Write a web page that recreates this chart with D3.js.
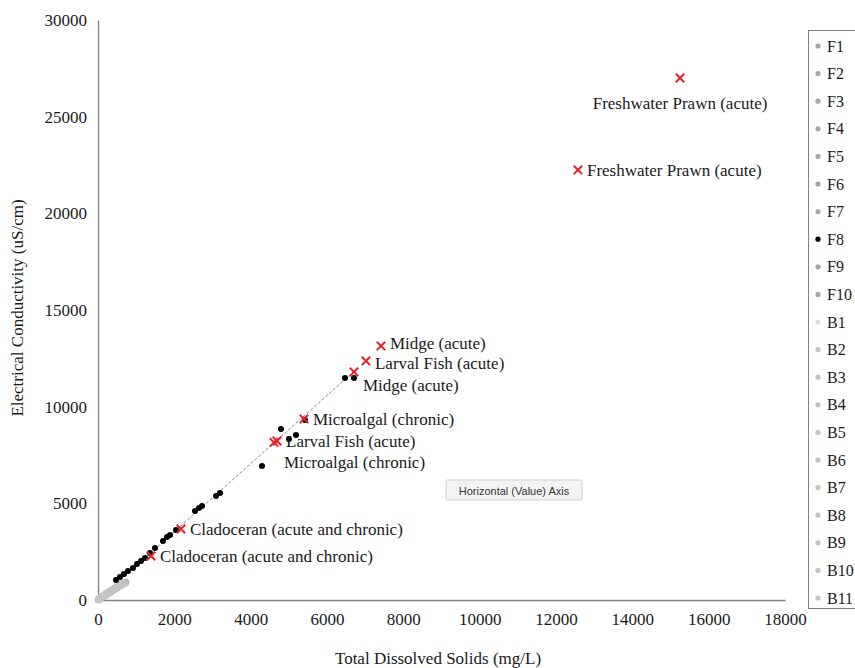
<!DOCTYPE html>
<html><head><meta charset="utf-8">
<script src="https://cdn.jsdelivr.net/npm/d3@7"></script>
<style>
body{margin:0;background:#fff;}
svg{display:block;font-family:"Liberation Serif","Times New Roman",serif;}
</style></head>
<body><svg id="c" width="855" height="668"></svg>
<script>
// ---- data ----
const xTicks = [0,2000,4000,6000,8000,10000,12000,14000,16000,18000];
const yTicks = [0,5000,10000,15000,20000,25000,30000];
const seriesNames = ["F1","F2","F3","F4","F5","F6","F7","F8","F9","F10","B1","B2","B3","B4","B5","B6","B7","B8","B9","B10","B11"];
const seriesColors = ["#a6a6a6","#a6a6a6","#a6a6a6","#a6a6a6","#a6a6a6","#a6a6a6","#a6a6a6","#000000","#a6a6a6","#a6a6a6","#dcdcdc","#c4c4c4","#c4c4c4","#c4c4c4","#c4c4c4","#c4c4c4","#c4c4c4","#c4c4c4","#c4c4c4","#c4c4c4","#c4c4c4"];
const F1 = [[60,90],[120,170],[180,240]];
const F2 = [[90,130],[210,290],[330,430]];
const F3 = [[150,200],[260,350],[420,560]];
const F4 = [[40,60],[300,400],[520,680]];
const F5 = [[100,150],[380,500],[600,780]];
const F6 = [[70,110],[240,320],[470,620]];
const F7 = [[130,180],[350,460],[680,850]];
const F8 = [[472,1035],[576,1190],[681,1345],[786,1500],[917,1655],[1022,1862],[1127,2018],[1231,2173],[1362,2431],[1493,2690],[1703,3052],[1808,3259],[1886,3363],[2043,3621],[2541,4604],[2646,4759],[2725,4863],[3091,5380],[3196,5535],[4297,6932],[4794,8846],[5004,8329],[5187,8536],[5423,9312],[6471,11485],[6707,11485]];
const F9 = [[200,270],[450,590],[720,900]];
const F10 = [[110,160],[310,410],[560,730]];
const B1 = [[30,50],[160,220],[524,880]];
const B2 = [[50,80],[190,260],[400,520]];
const B3 = [[80,120],[280,370],[640,820]];
const B4 = [[20,40],[230,300],[500,640]];
const B5 = [[140,190],[330,420],[700,870]];
const B6 = [[10,20],[170,230],[440,570]];
const B7 = [[90,140],[270,360],[580,740]];
const B8 = [[60,100],[220,290],[480,610]];
const B9 = [[110,170],[360,470],[660,840]];
const B10 = [[40,70],[250,330],[540,700]];
const B11 = [[20,30],[200,280],[620,790]];
const seriesData = [F1,F2,F3,F4,F5,F6,F7,F8,F9,F10,B1,B2,B3,B4,B5,B6,B7,B8,B9,B10,B11];
const trendLine = [[0,0],[6750,11900]];
const guideX = [15250,12575,7414,7021,6707,5397,4690,4610,2174,1389];
const guideY = [27000,22245,13140,12364,11795,9364,8225,8150,3673,2276];
const guideLabels = ["Freshwater Prawn (acute)","Freshwater Prawn (acute)","Midge (acute)","Larval Fish (acute)","Midge (acute)","Microalgal (chronic)","Larval Fish (acute)","Microalgal (chronic)","Cladoceran (acute and chronic)","Cladoceran (acute and chronic)"];
const guidePlacement = ["above","right","rightUp","rightDown","below","right","right","below2","right","right"];
const xTitle = "Total Dissolved Solids (mg/L)";
const yTitle = "Electrical Conductivity (uS/cm)";
const tooltipText = "Horizontal (Value) Axis";

// ---- chart ----
const svg = d3.select("#c");
const x = d3.scaleLinear().domain([0,18000]).range([98,785]);
const y = d3.scaleLinear().domain([0,30000]).range([600,20]);
const axisColor = "#808080";
const fs = 17;

const xAxis = svg.append("g").attr("transform","translate(0,600)")
  .call(d3.axisBottom(x).tickValues(xTicks).tickSize(0).tickPadding(13).tickFormat(d3.format("d")));
const yAxis = svg.append("g").attr("transform","translate(98,0)")
  .call(d3.axisLeft(y).tickValues(yTicks).tickSize(0).tickPadding(11).tickFormat(d3.format("d")));
[xAxis,yAxis].forEach(a=>{
  a.select(".domain").attr("stroke",axisColor).attr("stroke-width",1.3);
  a.selectAll("text").attr("font-family","Liberation Serif, serif").attr("font-size",17).attr("fill","#1a1a1a");
});

svg.append("text").attr("x",438).attr("y",664).attr("text-anchor","middle")
  .attr("font-size",fs).attr("fill","#1a1a1a").text(xTitle);
svg.append("text").attr("transform","translate(23,308) rotate(-90)").attr("text-anchor","middle")
  .attr("font-size",fs).attr("fill","#1a1a1a").text(yTitle);

svg.append("path").datum(trendLine)
  .attr("d",d3.line().x(d=>x(d[0])).y(d=>y(d[1])))
  .attr("stroke","#8a8a8a").attr("stroke-width",1).attr("stroke-dasharray","3,2").attr("fill","none");

const order = seriesNames.map((n,i)=>i).sort((a,b)=>(a===7)-(b===7));
order.forEach(i=>{
  svg.append("g").selectAll("circle").data(seriesData[i]).join("circle")
    .attr("cx",d=>x(d[0])).attr("cy",d=>y(d[1])).attr("r",i===7?3:3.8)
    .attr("fill",seriesColors[i]);
});

const s = 4.2;
guideX.forEach((gx,i)=>{
  const cx = x(gx), cy = y(guideY[i]);
  svg.append("path")
    .attr("d",`M${cx-s},${cy-s}L${cx+s},${cy+s}M${cx-s},${cy+s}L${cx+s},${cy-s}`)
    .attr("stroke","#e8202a").attr("stroke-width",2).attr("fill","none");
  const p = guidePlacement[i];
  const t = svg.append("text").attr("font-size",fs).attr("fill","#1a1a1a").attr("dominant-baseline","central").text(guideLabels[i]);
  if(p==="right") t.attr("x",cx+9).attr("y",cy+1);
  else if(p==="rightUp") t.attr("x",cx+9).attr("y",cy-2);
  else if(p==="rightDown") t.attr("x",cx+9).attr("y",cy+3);
  else if(p==="above") t.attr("x",cx).attr("y",cy+25).attr("text-anchor","middle");
  else if(p==="below") t.attr("x",cx+9).attr("y",cy+14);
  else if(p==="below2") t.attr("x",cx+10).attr("y",cy+20);
});

const tt = svg.append("g").attr("transform","translate(446,480)");
tt.append("rect").attr("width",136).attr("height",20).attr("fill","#f4f4f4").attr("stroke","#cfcfcf").attr("rx",1);
tt.append("text").attr("x",68).attr("y",10.5).attr("text-anchor","middle").attr("dominant-baseline","central")
  .attr("font-family","Liberation Sans, Arial, sans-serif").attr("font-size",11).attr("fill","#333").text(tooltipText);

const lg = svg.append("g");
lg.append("rect").attr("x",808.5).attr("y",30.5).attr("width",60).attr("height",578).attr("fill","#fff").attr("stroke","#808080");
const ly = d3.scalePoint().domain(seriesNames).range([46,598]);
seriesNames.forEach((n,i)=>{
  lg.append("circle").attr("cx",818).attr("cy",ly(n)).attr("r",2.6).attr("fill",seriesColors[i]);
  lg.append("text").attr("x",827).attr("y",ly(n)).attr("dominant-baseline","central").attr("font-size",16).attr("fill","#1a1a1a").text(n);
});
</script></body></html>
